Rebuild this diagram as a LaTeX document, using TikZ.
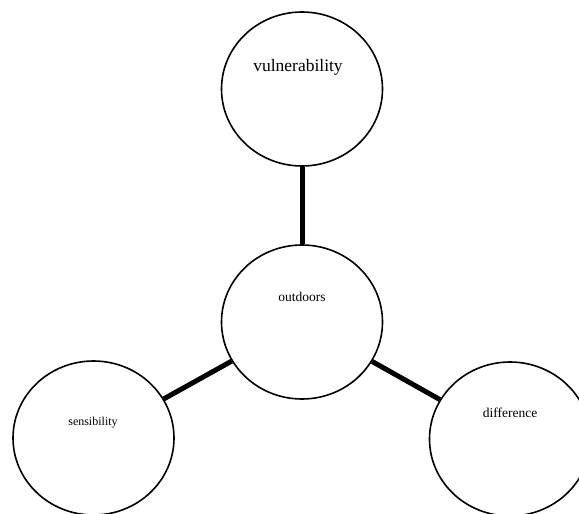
\documentclass[tikz,border=0pt]{standalone}
\usepackage{fontspec}
\setmainfont{Liberation Serif}
\usetikzlibrary{shapes.geometric}
\begin{document}
\begin{tikzpicture}[x=1pt,y=-1pt,
  bubble/.style={draw=black,line width=1.6pt,ellipse,minimum width=161pt,minimum height=154pt,inner sep=0pt,fill=white},
  link/.style={line width=5pt,black},
  lbl/.style={inner sep=0pt,anchor=center}]
\useasboundingbox (0,0) rectangle (579,514);
\fill[white] (0,0) rectangle (579,514);
\node[bubble] (top) at (302,89) {};
\node[bubble] (mid) at (302,322) {};
\node[bubble] (left) at (93.5,438) {};
\node[bubble] (right) at (510,439) {};
\draw[link] (top) -- (mid);
\draw[link] (mid) -- (left);
\draw[link] (mid) -- (right);
\node[lbl,font=\fontsize{17.5}{20}\selectfont] (t1) at (298,67) {vulnerability};
\node[lbl,font=\fontsize{13.5}{16}\selectfont] (t2) at (302,297) {outdoors};
\node[lbl,font=\fontsize{12}{14}\selectfont] (t3) at (93,423) {sensibility};
\node[lbl,font=\fontsize{13.5}{16}\selectfont] (t4) at (510,413) {difference};
\end{tikzpicture}
\end{document}
